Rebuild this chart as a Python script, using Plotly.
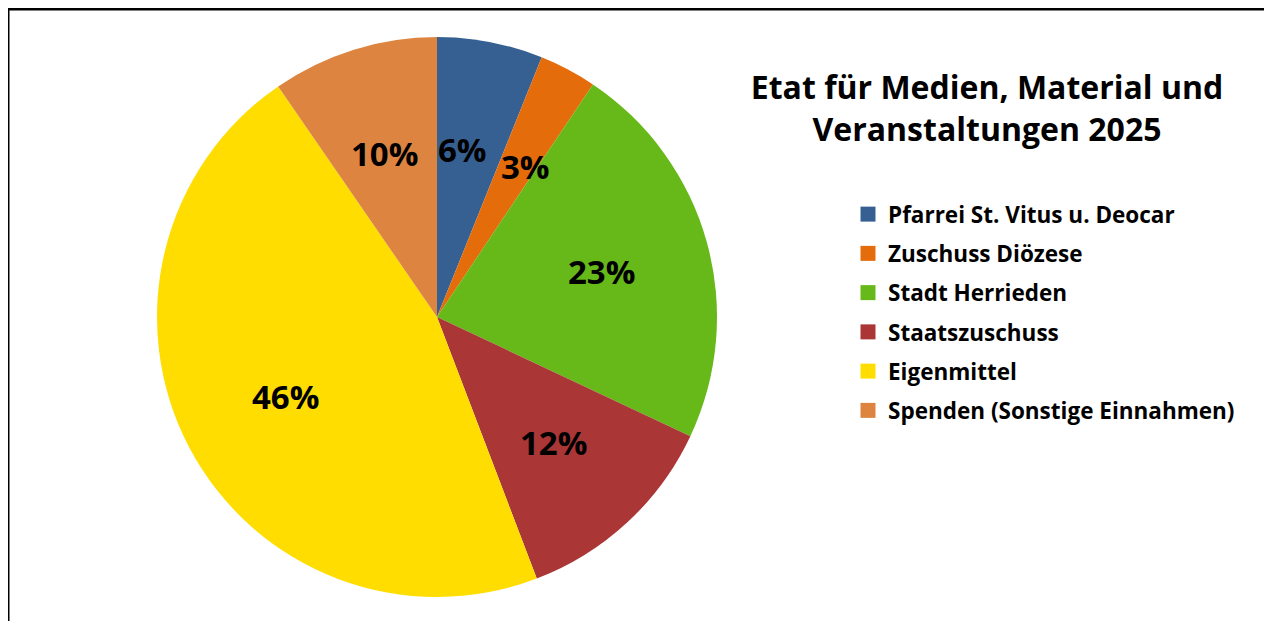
import math
import plotly.graph_objects as go

categories = ["Pfarrei St. Vitus u. Deocar", "Zuschuss Diözese", "Stadt Herrieden",
              "Staatszuschuss", "Eigenmittel", "Spenden (Sonstige Einnahmen)"]
values = [6.1, 3.3, 22.6, 12.2, 46.2, 9.6]
colors = ["#376092", "#E46C0A", "#67B819", "#AA3636", "#FFDD00", "#DD8540"]
title_text = "Etat für Medien, Material und<br>Veranstaltungen 2025"

# page body adds an 8px margin, so the figure is laid out 8px smaller/offset
OFF = 8
W, H = 1272 - OFF, 621 - OFF
FONT = "Open Sans"
LBL_SIZE = 33

# pie domain (screen pixels -> paper)
cx, cy, R = 437 - OFF, 317 - OFF, 280
dom_x = [(cx - R) / W, (cx + R) / W]
dom_y = [(H - cy - R) / H, (H - cy + R) / H]

fig = go.Figure()
fig.add_trace(go.Pie(
    labels=categories, values=values, sort=False, direction="clockwise",
    rotation=0, marker=dict(colors=colors, line=dict(width=0)),
    textinfo="none", hoverinfo="label+percent", showlegend=False,
    domain=dict(x=dom_x, y=dom_y),
))

# percent labels placed along each slice bisector
total = sum(values)
cum = 0
labels = []
for v in values:
    mid = (cum + v / 2) / total * 2 * math.pi
    cum += v
    txt = f"{round(v / total * 100)}%"
    labels.append([cx + 0.61 * R * math.sin(mid), cy - 0.61 * R * math.cos(mid), txt])

# simple collision avoidance between neighbouring labels (push apart horizontally)
for i in range(len(labels)):
    a, b = labels[i], labels[(i + 1) % len(labels)]
    wa = len(a[2]) * 0.72 * LBL_SIZE
    wb = len(b[2]) * 0.72 * LBL_SIZE
    if abs(a[1] - b[1]) < LBL_SIZE:
        need = (wa + wb) / 2 + 18
        dx = b[0] - a[0]
        if abs(dx) < need:
            push = (need - abs(dx)) / 2 * (1 if dx >= 0 else -1)
            a[0] -= push
            b[0] += push

annotations = [dict(
    x=px / W, y=1 - py / H, xref="paper", yref="paper", text=txt, showarrow=False,
    font=dict(family=FONT, size=LBL_SIZE, color="black", weight="bold"),
    xanchor="center", yanchor="middle",
) for px, py, txt in labels]

# legend entries via dummy square markers
for name, c in zip(categories, colors):
    fig.add_trace(go.Scatter(
        x=[None], y=[None], mode="markers", name=name, legendgroup=name,
        marker=dict(symbol="square", size=15, color=c),
    ))

fig.update_layout(
    width=W, height=H, margin=dict(l=0, r=0, t=0, b=0),
    paper_bgcolor="white", plot_bgcolor="white",
    xaxis=dict(visible=False), yaxis=dict(visible=False),
    title=dict(text=title_text, x=(987 - OFF) / W, xanchor="center",
               y=1 - (99 - OFF) / H, yanchor="middle",
               font=dict(family=FONT, size=32, color="black", weight="bold")),
    legend=dict(x=(848 - OFF) / W, y=1 - (193 - OFF) / H, xanchor="left", yanchor="top",
                font=dict(family=FONT, size=22.5, color="black", weight="bold"),
                tracegroupgap=7, bgcolor="rgba(0,0,0,0)"),
    annotations=annotations,
    shapes=[
        dict(type="line", xref="paper", yref="paper", x0=0, x1=0, y0=0, y1=1,
             line=dict(color="black", width=3)),
        dict(type="line", xref="paper", yref="paper", x0=0, x1=1, y0=1 - 1 / H, y1=1 - 1 / H,
             line=dict(color="black", width=3)),
    ],
)

fig.write_html("out.html")
